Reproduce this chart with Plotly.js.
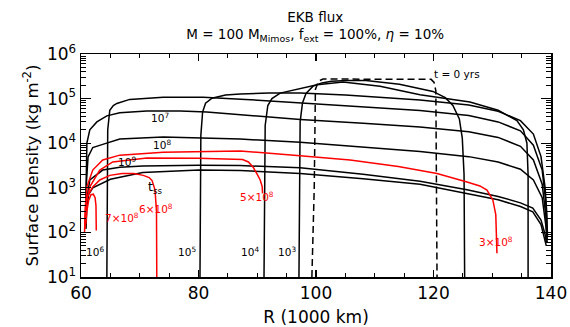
<!DOCTYPE html>
<html>
<head>
<meta charset="utf-8">
<script src="https://cdn.plot.ly/plotly-3.0.1.min.js"></script>
<style>html,body{margin:0;padding:0;background:#fff}</style>
</head>
<body>
<div id="chart" style="width:570px;height:327px"></div>
<script>
// ---- data (R in 1000 km, surface density in kg m^-2) ----
var R_t0   = [99.3, 99.7, 99.9, 100.4, 101.2, 110, 119.6, 120.1, 120.4, 120.6];
var S_t0   = [10, 1e3, 1.6e5, 2.45e5, 2.75e5, 2.75e5, 2.7e5, 2.3e5, 1.5e5, 10];

var R_1e3  = [97.1, 97.15, 97.3, 97.7, 98.3, 99.5, 101.0, 102.6, 105.3, 108.5, 114.2, 119.9, 122.0, 123.3, 124.4, 124.9, 125.2, 125.3];
var S_1e3  = [10, 1e3, 3e4, 8e4, 1.3e5, 1.9e5, 2.25e5, 2.45e5, 2.55e5, 2.55e5, 2.1e5, 1.45e5, 1.05e5, 7e4, 3.5e4, 1.3e4, 2e3, 10];

var R_1e4  = [91.15, 91.2, 91.35, 91.8, 92.5, 93.9, 96.8, 100.2, 104.6, 110.9, 117.7, 126.2, 131, 134.2, 135.3, 135.9, 136.1, 136.1];
var S_1e4  = [10, 1e3, 2.5e4, 7e4, 1.0e5, 1.33e5, 1.64e5, 2.05e5, 2.35e5, 1.9e5, 1.22e5, 8.4e4, 5.5e4, 3.2e4, 2e4, 1e4, 2e3, 10];

var R_1e5  = [80.25, 80.3, 80.4, 80.7, 81.2, 82.3, 84.6, 87.1, 92, 97.3, 105, 117.7, 126, 131, 134.8, 137.0, 138.3, 139.0, 139.3, 139.4];
var S_1e5  = [10, 1e3, 1.5e4, 5e4, 7.9e4, 1.02e5, 1.2e5, 1.27e5, 1.33e5, 1.33e5, 1.2e5, 9.3e4, 7.2e4, 5.2e4, 3.2e4, 1.6e4, 5e3, 1e3, 250, 80];

var R_1e6  = [64.4, 64.45, 64.55, 64.9, 65.5, 66.1, 68.3, 74, 80.8, 88, 97.3, 108, 117.7, 126, 131, 134.8, 137, 138.5, 139.1, 139.35];
var S_1e6  = [10, 1e3, 2e4, 5.5e4, 7e4, 7.8e4, 9.6e4, 1.07e5, 1.07e5, 9.6e4, 8.0e4, 6.6e4, 5.4e4, 4.2e4, 3.0e4, 1.9e4, 9e3, 2.5e3, 500, 80];

var R_1e7  = [60.75, 60.85, 61.0, 61.5, 62.7, 64.4, 66.6, 71.2, 76.9, 81.4, 87.1, 97.3, 108, 117.7, 126, 131, 134.8, 137, 138.5, 139.1, 139.35];
var S_1e7  = [150, 1.5e3, 1e4, 2e4, 3e4, 4.1e4, 4.8e4, 5.3e4, 5.3e4, 5.0e4, 4.3e4, 3.4e4, 2.8e4, 2.3e4, 1.8e4, 1.35e4, 8.5e3, 4.2e3, 1.2e3, 250, 70];

var R_1e8  = [60.8, 60.95, 61.2, 62.0, 63.7, 66.6, 74.0, 81.4, 87.1, 97.3, 108, 117.7, 126, 131, 134.8, 137, 138.5, 139.1, 139.35];
var S_1e8  = [150, 1.5e3, 4.9e3, 8.0e3, 9.4e3, 1.24e4, 1.38e4, 1.31e4, 1.24e4, 1.05e4, 8.2e3, 6.5e3, 5.0e3, 3.8e3, 2.6e3, 1.5e3, 600, 150, 60];

var R_1e9  = [60.8, 60.95, 61.5, 63.7, 66.6, 70.55, 80.1, 87.1, 97.3, 108, 117.7, 125.7, 131, 134.8, 136.9, 138.3, 139.0, 139.2];
var S_1e9  = [150, 500, 1.5e3, 2.5e3, 2.9e3, 3.1e3, 3.2e3, 3.15e3, 2.8e3, 2.0e3, 1.4e3, 900, 640, 460, 350, 190, 90, 60];

var R_tss  = [60.85, 61.0, 61.3, 62.0, 65.0, 68.0, 70.5, 80.1, 87.1, 97.3, 108, 117.7, 125.7, 131, 134.8, 136.9, 138.3, 139.0, 139.2];
var S_tss  = [120, 400, 700, 1.0e3, 1.55e3, 1.9e3, 2.2e3, 2.5e3, 2.45e3, 2.1e3, 1.6e3, 1.2e3, 760, 540, 380, 290, 150, 70, 50];

var R_3e8  = [60.6, 60.75, 61.0, 62.0, 63.7, 66.6, 74.0, 87.1, 97.3, 105.8, 114, 120.6, 125.7, 127.9, 129.1, 130.1, 130.6, 130.8];
var S_3e8  = [100, 400, 1.05e3, 2.5e3, 4.2e3, 5.4e3, 6.3e3, 6.7e3, 5.2e3, 4.2e3, 3.0e3, 2.1e3, 1.35e3, 1.1e3, 890, 535, 250, 34];

var R_5e8  = [60.65, 60.8, 61.5, 63.2, 65.4, 71.2, 80, 87.5, 88.5, 89.3, 90.0, 90.5, 90.85, 90.9];
var S_5e8  = [150, 400, 1.05e3, 2.5e3, 3.8e3, 4.65e3, 4.6e3, 4.3e3, 3.8e3, 2.9e3, 2.0e3, 1.5e3, 1.05e3, 750];

var R_6e8  = [60.7, 60.85, 61.0, 62.0, 63.2, 64.9, 67.0, 69.0, 70.6, 71.6, 72.1, 72.6, 72.85, 72.9];
var S_6e8  = [120, 350, 620, 1.05e3, 1.5e3, 1.9e3, 2.1e3, 2.1e3, 1.9e3, 1.7e3, 1.45e3, 900, 300, 10];

var R_7e8  = [60.8, 61.0, 61.3, 61.7, 62.1, 62.4, 62.55, 62.6, 62.6];
var S_7e8  = [150, 300, 520, 700, 720, 600, 400, 200, 110];

var yTickVals = [10, 100, 1000, 1e4, 1e5, 1e6];
var yTickText = ['10<sup>1</sup>', '10<sup>2</sup>', '10<sup>3</sup>', '10<sup>4</sup>', '10<sup>5</sup>', '10<sup>6</sup>'];
var xTickVals = [60, 80, 100, 120, 140];

// ---- traces ----
var FONT = 'DejaVu Sans, Liberation Sans, sans-serif';
function blk(R, S, dash) {
  return {x: R, y: S, mode: 'lines', type: 'scatter', hoverinfo: 'skip',
          line: {color: 'black', width: 1.5, dash: dash || 'solid'}};
}
function red(R, S) {
  return {x: R, y: S, mode: 'lines', type: 'scatter', hoverinfo: 'skip',
          line: {color: '#ff0000', width: 1.5}};
}
var traces = [
  blk(R_t0, S_t0, '7px,4px'),
  blk(R_1e3, S_1e3), blk(R_1e4, S_1e4), blk(R_1e5, S_1e5), blk(R_1e6, S_1e6),
  blk(R_1e7, S_1e7), blk(R_1e8, S_1e8), blk(R_1e9, S_1e9), blk(R_tss, S_tss),
  red(R_3e8, S_3e8), red(R_5e8, S_5e8), red(R_6e8, S_6e8), red(R_7e8, S_7e8)
];

var minorY = [];
for (var k = 1; k < 6; k++) { for (var d = 2; d <= 9; d++) { minorY.push(d * Math.pow(10, k)); } }

function lab(x, ylog, text, color, anchor, size) {
  return {x: x, y: ylog, xref: 'x', yref: 'y', text: text, showarrow: false,
          xanchor: anchor || 'center', yanchor: 'middle',
          font: {family: FONT, size: size || 10.5, color: color || 'black'}};
}
var annotations = [
  lab(73.45, 4.57, '10<sup>7</sup>'),
  lab(73.8, 3.96, '10<sup>8</sup>'),
  lab(67.8, 3.58, '10<sup>9</sup>'),
  lab(72.6, 3.0, 't<sub>ss</sub>', 'black', 'center', 12.5),
  lab(62.4, 1.58, '10<sup>6</sup>'),
  lab(78.0, 1.58, '10<sup>5</sup>'),
  lab(88.8, 1.58, '10<sup>4</sup>'),
  lab(95.1, 1.58, '10<sup>3</sup>'),
  lab(119.7, 5.55, 't = 0 yrs', 'black', 'left'),
  lab(66.9, 2.33, '7×10<sup>8</sup>', '#ff0000'),
  lab(72.8, 2.53, '6×10<sup>8</sup>', '#ff0000'),
  lab(89.9, 2.8, '5×10<sup>8</sup>', '#ff0000'),
  lab(130.6, 1.8, '3×10<sup>8</sup>', '#ff0000')
];

var layout = {
  width: 570, height: 327,
  margin: {l: 81, r: 19, t: 54, b: 50},
  paper_bgcolor: 'white', plot_bgcolor: 'white',
  showlegend: false,
  font: {family: FONT, color: 'black'},
  title: {text: 'EKB flux<br>M = 100 M<sub>Mimos</sub>, f<sub>ext</sub> = 100%, <i>η</i> = 10%',
          x: 0.553, xanchor: 'center', y: 0.933, yanchor: 'top',
          font: {family: FONT, size: 13.5, color: 'black'}},
  xaxis: {range: [60, 140], tickmode: 'array', tickvals: xTickVals,
          ticks: 'inside', ticklen: 7, tickwidth: 1.2, tickcolor: 'black',
          showline: true, linecolor: 'black', linewidth: 1.5, mirror: 'allticks',
          showgrid: false, zeroline: false,
          minor: {dtick: 5, tick0: 60, ticks: 'inside', ticklen: 4, tickwidth: 1, tickcolor: 'black', showgrid: false},
          tickfont: {family: FONT, size: 17, color: 'black'},
          title: {text: 'R (1000 km)', font: {family: FONT, size: 17, color: 'black'}, standoff: 10}},
  yaxis: {type: 'log', range: [1, 6], tickmode: 'array', tickvals: yTickVals, ticktext: yTickText,
          ticks: 'inside', ticklen: 10, tickwidth: 1.2, tickcolor: 'black',
          showline: true, linecolor: 'black', linewidth: 1.5, mirror: 'allticks',
          showgrid: false, zeroline: false,
          minor: {tickmode: 'array', tickvals: minorY, ticks: 'inside', ticklen: 5, tickwidth: 1, tickcolor: 'black', showgrid: false},
          tickfont: {family: FONT, size: 17, color: 'black'},
          title: {text: 'Surface Density (kg m<sup>-2</sup>)', font: {family: FONT, size: 16.5, color: 'black'}, standoff: 4}},
  annotations: annotations
};

Plotly.newPlot('chart', traces, layout, {staticPlot: true, displayModeBar: false});
</script>
</body>
</html>
